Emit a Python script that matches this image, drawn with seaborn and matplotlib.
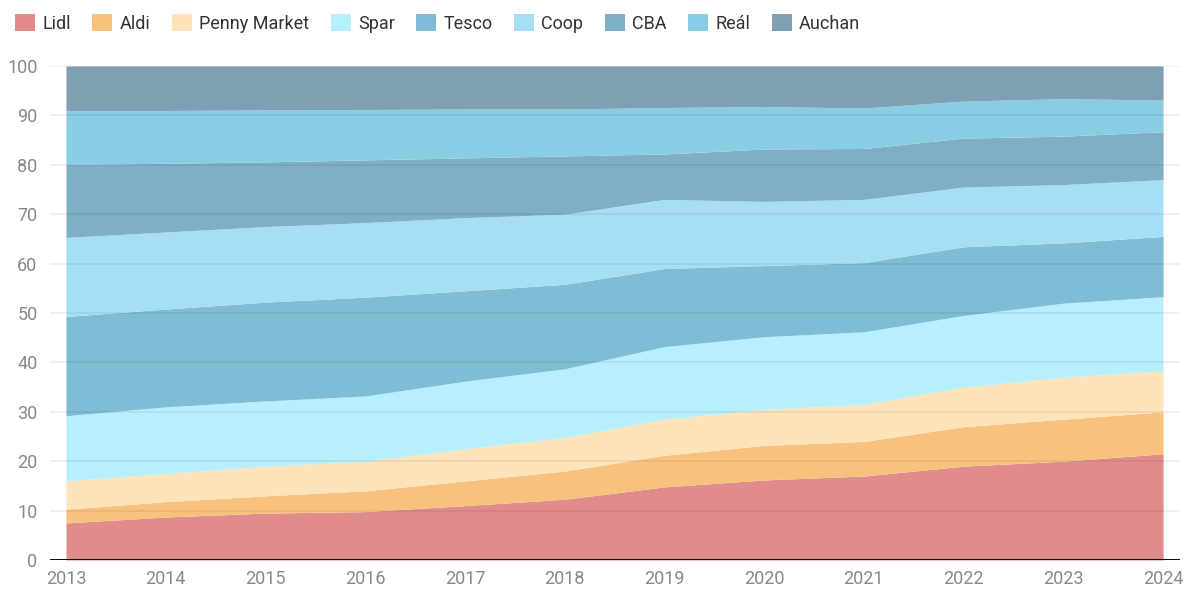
import numpy as np
import matplotlib
matplotlib.use("Agg")
import matplotlib.pyplot as plt
import seaborn as sns

# market share by chain, in percent (stacked to 100)
years = [2013, 2014, 2015, 2016, 2017, 2018, 2019, 2020, 2021, 2022, 2023, 2024]
chains = ["Lidl", "Aldi", "Penny Market", "Spar", "Tesco", "Coop", "CBA", "Reál", "Auchan"]

lidl = [7.5, 8.7, 9.5, 9.8, 11.0, 12.3, 14.8, 16.2, 17.0, 19.0, 20.0, 21.5]
aldi = [2.8, 3.1, 3.5, 4.2, 5.0, 5.7, 6.4, 7.0, 7.0, 8.0, 8.5, 8.5]
penny = [5.7, 5.7, 6.0, 6.0, 6.5, 6.8, 7.3, 7.3, 7.5, 8.0, 8.5, 8.3]
spar = [13.2, 13.5, 13.2, 13.2, 13.7, 13.9, 14.7, 14.7, 14.7, 14.5, 15.0, 15.0]
tesco = [20.1, 19.8, 20.0, 20.0, 18.3, 17.1, 15.8, 14.4, 14.0, 13.9, 12.2, 12.2]
coop = [16.0, 15.6, 15.3, 15.1, 14.8, 14.2, 14.0, 13.0, 12.8, 12.1, 11.8, 11.5]
cba = [14.8, 13.9, 13.1, 12.7, 12.1, 11.8, 9.2, 10.6, 10.3, 9.9, 9.8, 9.7]
real = [10.9, 10.7, 10.5, 10.2, 9.9, 9.5, 9.4, 8.6, 8.2, 7.5, 7.6, 6.4]
auchan = [9.0, 9.0, 8.9, 8.8, 8.7, 8.7, 8.4, 8.2, 8.5, 7.1, 6.6, 6.9]

colors = ["#e08c8b", "#f8c27e", "#fde3ba", "#b7effc", "#7ebdd5",
          "#a6dff5", "#7fafc5", "#89cde5", "#7f9fb3"]

sns.set_theme(style="white")
plt.rcParams['font.family'] = ['Roboto', 'DejaVu Sans']

fig = plt.figure(figsize=(11.92, 5.89), dpi=100)
ax = fig.add_axes([50 / 1192, 29 / 589, 1130 / 1192, 494 / 589])

series = [lidl, aldi, penny, spar, tesco, coop, cba, real, auchan]
ax.stackplot(years, *series, labels=chains, colors=colors, linewidth=0, zorder=1)

ax.set_xlim(2012.84, 2024.17)
ax.set_ylim(0, 100)
ax.set_yticks(range(0, 101, 10))
ax.set_xticks(years)

# horizontal grid drawn over the areas
for y in range(10, 101, 10):
    ax.axhline(y, color="#000000", alpha=0.07, linewidth=1.2, zorder=2)
ax.axhline(0, color="#111111", linewidth=2.2, zorder=3)

for s in ax.spines.values():
    s.set_visible(False)
ax.tick_params(axis="both", length=0, labelsize=13, colors="#888888")
ax.tick_params(axis="y", pad=9)
ax.tick_params(axis="x", pad=7)

handles, labels = ax.get_legend_handles_labels()
fig.legend(handles, labels, loc="upper left", bbox_to_anchor=(-0.001, 1.004), ncol=9,
           frameon=False, fontsize=13, handlelength=1.1, handleheight=1.1,
           handletextpad=0.4, columnspacing=1.2, labelcolor="#333333")

fig.savefig("out.png", dpi=100)
